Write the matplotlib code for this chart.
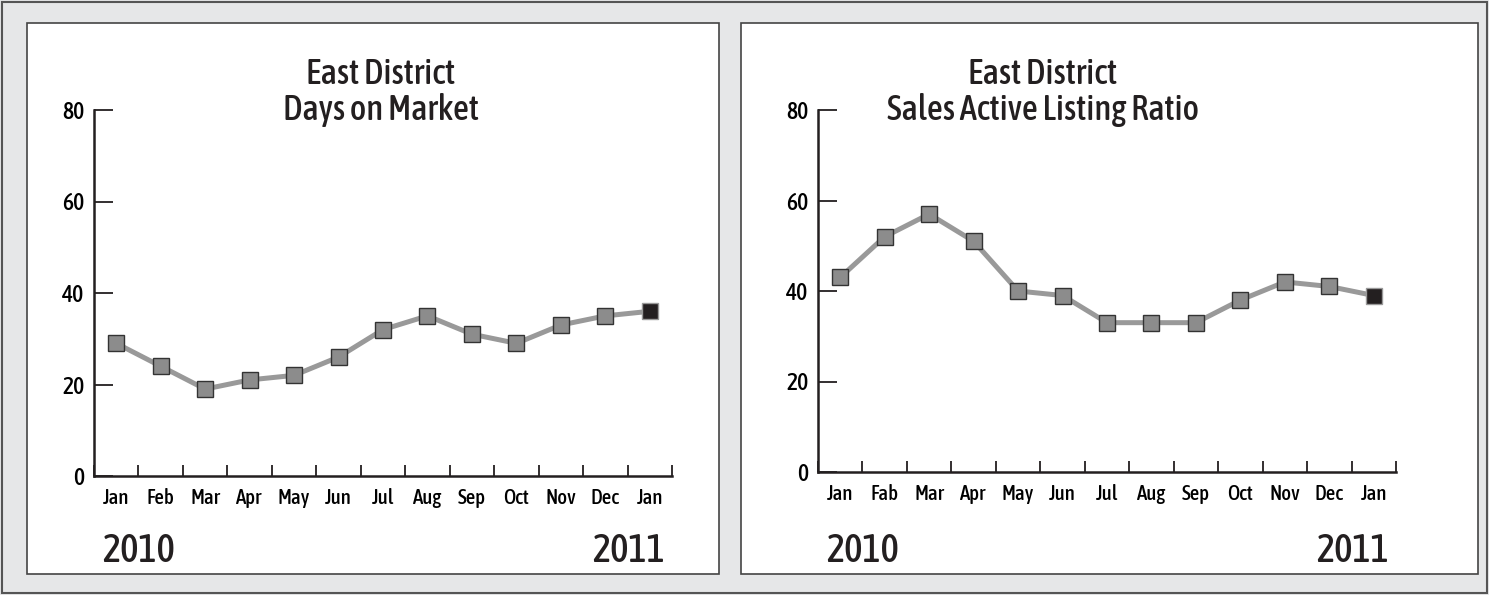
import matplotlib
matplotlib.use("Agg")
import matplotlib.pyplot as plt
from matplotlib.patches import Rectangle
from matplotlib import font_manager
from matplotlib.font_manager import FontProperties
import numpy as np

months = ["Jan", "Feb", "Mar", "Apr", "May", "Jun", "Jul", "Aug", "Sep", "Oct", "Nov", "Dec", "Jan"]
months_right = ["Jan", "Fab", "Mar", "Apr", "May", "Jun", "Jul", "Aug", "Sep", "Oct", "Nov", "Dec", "Jan"]
days_on_market = [29, 24, 19, 21, 22, 26, 32, 35, 31, 29, 33, 35, 36]
sales_active_ratio = [43, 52, 57, 51, 40, 39, 33, 33, 33, 38, 42, 41, 39]
yticks = [0, 20, 40, 60, 80]
titles = [("East District", "Days on Market"), ("East District", "Sales Active Listing Ratio")]
years = ("2010", "2011")

# pick a condensed / narrow face (medium weight preferred) if one is installed
fname = None
cands = []
for f in font_manager.fontManager.ttflist:
    low = f.fname.lower()
    if ("narrow" in low or "condensed" in low or f.stretch in ("condensed", "semi-condensed", "extra-condensed")) \
            and f.style == "normal" and "semi" not in low:
        cands.append(f)
def score(f):
    w = f.weight if isinstance(f.weight, int) else 400
    return (abs(w - 500), f.fname)
if cands:
    fname = sorted(cands, key=score)[0].fname
FP = (lambda size: FontProperties(fname=fname, size=size)) if fname else \
     (lambda size: FontProperties(family="DejaVu Sans", size=size))

W, H = 1489, 595
fig = plt.figure(figsize=(W / 100, H / 100), dpi=100)
fig.patch.set_facecolor("#e6e7e8")

def fx(x): return x / W
def fy(y): return 1 - y / H

fig.add_artist(Rectangle((fx(2), fy(593)), fx(1485), 591 / H, transform=fig.transFigure,
                         facecolor="none", edgecolor="#555555", lw=1.5, zorder=-2))
for x0, x1 in [(27, 719), (741, 1478)]:
    fig.add_artist(Rectangle((fx(x0), fy(574)), fx(x1 - x0), (574 - 23) / H, transform=fig.transFigure,
                             facecolor="white", edgecolor="#444444", lw=1.2, zorder=-1))

DARK = "#231f20"
configs = [
    dict(data=days_on_market, labels=months, ax=(94, 672, 110, 476), title=titles[0], tx=381),
    dict(data=sales_active_ratio, labels=months_right, ax=(818, 1396, 110, 472), title=titles[1], tx=1043),
]

for c in configs:
    x0, x1, ytop, ybot = c["ax"]
    ax = fig.add_axes([fx(x0), fy(ybot), fx(x1 - x0), (ybot - ytop) / H])
    ax.set_facecolor("none")
    x = np.arange(len(c["data"]))
    ax.plot(x, c["data"], color="#999999", lw=3.6, solid_joinstyle="round", zorder=2)
    ax.plot(x[:-1], c["data"][:-1], ls="none", marker="s", ms=11.5,
            mfc="#8c8c8c", mec="#333333", mew=1.0, zorder=3)
    ax.plot(x[-1:], c["data"][-1:], ls="none", marker="s", ms=11.5, mfc=DARK, mec="#999999", mew=1.0, zorder=4)
    ax.set_xlim(-0.5, len(x) - 0.5)
    ax.set_ylim(0, 80)
    for s in ["top", "right"]:
        ax.spines[s].set_visible(False)
    for s in ["left", "bottom"]:
        ax.spines[s].set_color(DARK)
        ax.spines[s].set_linewidth(1.8)
    ax.set_yticks(yticks)
    ax.set_yticklabels([str(v) for v in yticks], fontproperties=FP(17))
    ax.tick_params(axis="y", direction="in", length=14, width=1.3, color=DARK, pad=7)
    ax.set_xticks(x)
    ax.set_xticklabels(c["labels"], fontproperties=FP(15))
    ax.tick_params(axis="x", which="major", length=0, pad=8.5)
    ax.set_xticks(np.arange(-0.5, len(x), 1), minor=True)
    ax.tick_params(axis="x", which="minor", direction="in", length=8, width=1.3, color=DARK)
    fig.text(fx(c["tx"]), fy(84), c["title"][0], ha="center", va="baseline", fontproperties=FP(25), color=DARK)
    fig.text(fx(c["tx"]), fy(120), c["title"][1], ha="center", va="baseline", fontproperties=FP(25), color=DARK)
    fig.text(fx(x0 + 8), fy(562), years[0], ha="left", va="baseline", fontproperties=FP(28), color=DARK)
    fig.text(fx(x1 - 7), fy(562), years[1], ha="right", va="baseline", fontproperties=FP(28), color=DARK)

fig.savefig("out.png", dpi=100, facecolor=fig.get_facecolor())
